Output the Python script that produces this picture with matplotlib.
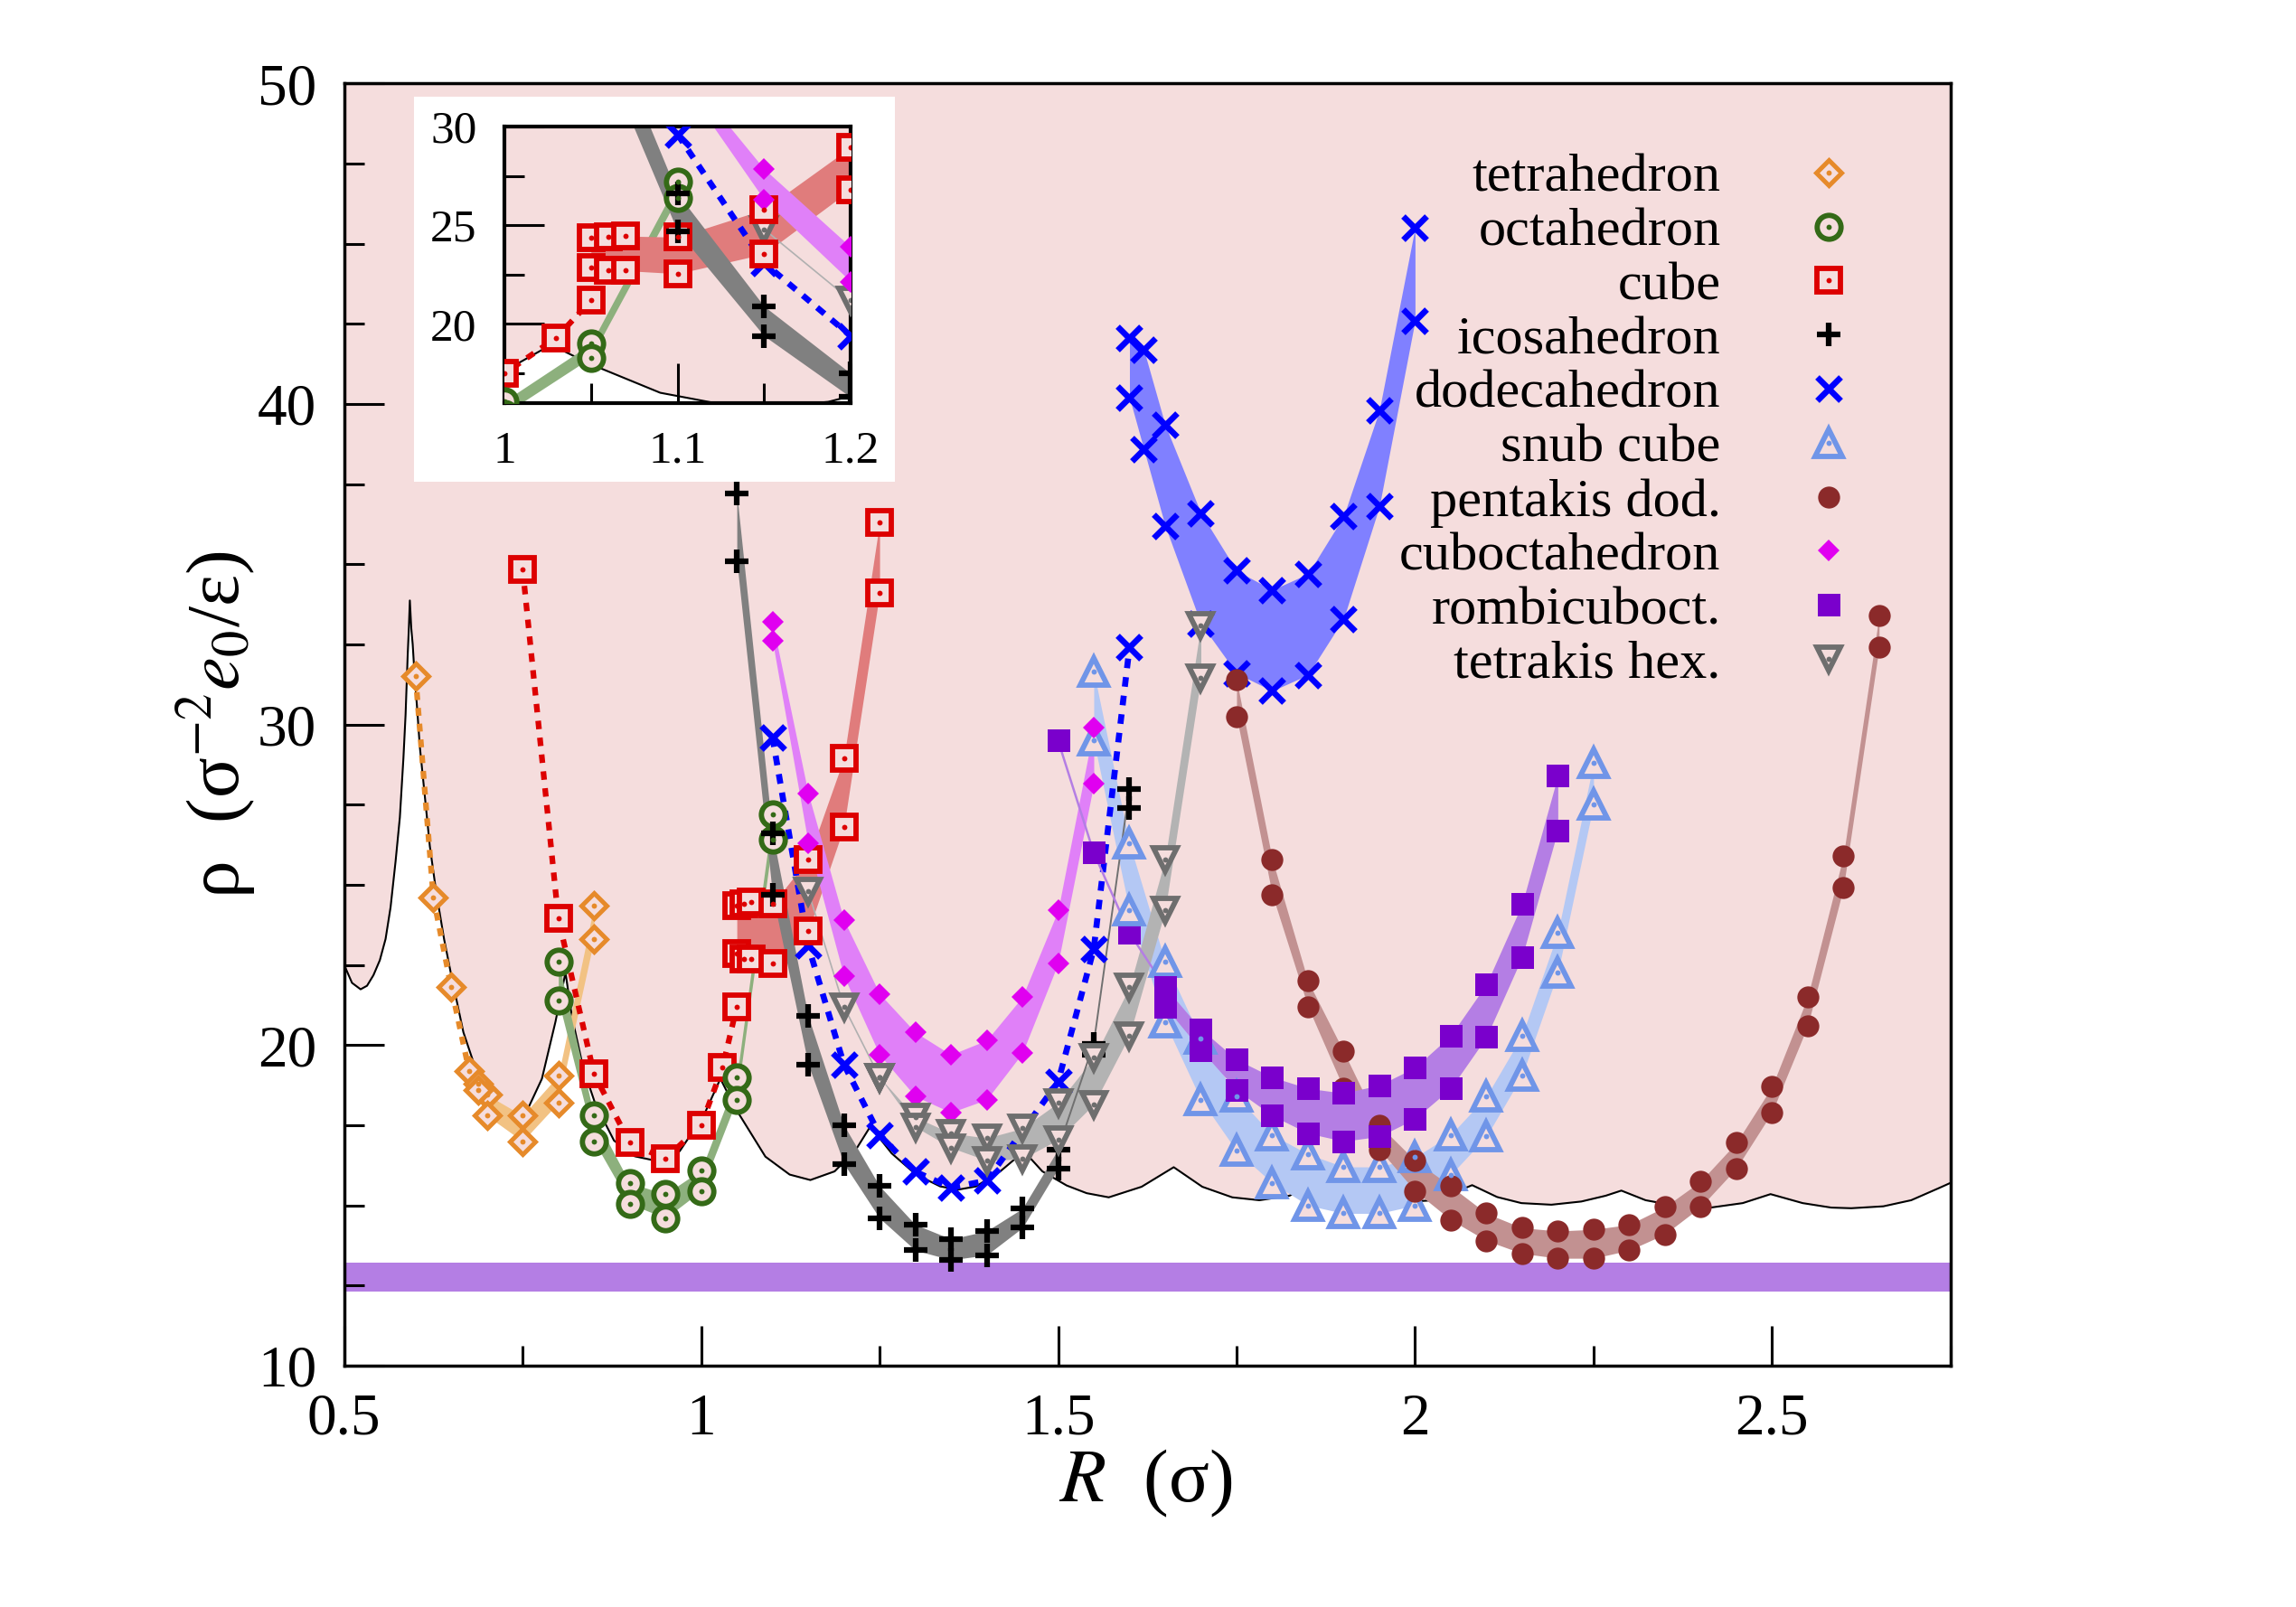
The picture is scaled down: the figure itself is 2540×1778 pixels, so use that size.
import numpy as np
import matplotlib.pyplot as plt
from matplotlib.patches import Rectangle
from matplotlib.ticker import MultipleLocator

plt.rcParams['font.family'] = ['Liberation Serif', 'DejaVu Serif']
plt.rcParams['mathtext.fontset'] = 'stix'

# black boundary curve (region above it is shaded)
edge_R = [0.5, 0.511, 0.523, 0.532, 0.541, 0.55, 0.558, 0.565, 0.572, 0.578, 0.583, 0.586,
          0.589, 0.5905, 0.592, 0.594, 0.596, 0.599, 0.602, 0.606, 0.612, 0.62, 0.629, 0.64,
          0.650, 0.667, 0.684, 0.709, 0.734, 0.755, 0.777, 0.796, 0.810, 0.819, 0.835,
          0.852, 0.878, 0.907, 0.941, 0.970, 1.004, 1.027, 1.048, 1.090, 1.124, 1.153, 1.187,
          1.216, 1.237, 1.267, 1.301, 1.335, 1.360, 1.385, 1.419, 1.444, 1.453, 1.478, 1.512,
          1.540, 1.571, 1.617, 1.662, 1.702, 1.744, 1.782, 1.824, 1.848, 1.870, 1.900, 1.940,
          1.980, 2.020, 2.050, 2.080, 2.115, 2.149, 2.191, 2.233, 2.267, 2.289, 2.323, 2.369,
          2.414, 2.459, 2.498, 2.543, 2.583, 2.611, 2.656, 2.695, 2.734, 2.75]
edge_rho = [22.5, 21.94, 21.74, 21.85, 22.18, 22.65, 23.31, 24.3, 25.73, 27.1, 28.95, 30.3,
            32.18, 32.95, 33.87, 33.0, 32.5, 31.4, 30.56, 29.3, 27.98, 26.2, 24.76, 23.3,
            22.18, 20.4, 19.27, 18.31, 17.82, 17.9, 18.95, 20.73, 22.26, 20.89, 19.27,
            18.15, 17.02, 16.53, 16.37, 16.69, 17.82, 18.95, 18.03, 16.52, 15.96, 15.79, 16.06,
            16.71, 17.46, 16.62, 15.96, 15.59, 15.49, 15.59, 16.06, 16.53, 16.67, 16.06, 15.62,
            15.38, 15.25, 15.58, 16.19, 15.58, 15.25, 15.16, 15.3, 15.55, 15.85, 15.45, 15.2,
            15.1, 15.15, 15.35, 15.63, 15.26, 15.07, 15.02, 15.12, 15.3, 15.46, 15.16, 14.97,
            14.93, 15.07, 15.35, 15.07, 14.93, 14.91, 14.97, 15.16, 15.54, 15.7]

# horizontal reference band
ref_lo, ref_hi = 12.3, 13.2

# tetrahedron
tet_R1 = [0.6, 0.625, 0.65, 0.675]
tet_rho1 = [31.5, 24.6, 21.8, 19.2]
tet_R2 = [0.6875, 0.7, 0.75, 0.8, 0.85]
tet_hi = [18.8, 18.45, 17.8, 19.05, 24.35]
tet_lo = [18.6, 17.8, 17.0, 18.2, 23.3]

# octahedron
oct_R2 = [0.8, 0.85, 0.9, 0.95, 1.0, 1.05, 1.1]
oct_hi = [22.6, 17.8, 15.7, 15.35, 16.1, 19.0, 27.2]
oct_lo = [21.4, 17.0, 15.05, 14.6, 15.45, 18.3, 26.4]

# cube
cub_R1 = [0.75, 0.8, 0.85, 0.9, 0.95, 1.0, 1.03, 1.05]
cub_rho1 = [34.85, 23.95, 19.1, 16.95, 16.45, 17.5, 19.3, 21.2]
cub_R2 = [1.05, 1.06, 1.07, 1.1, 1.15, 1.2, 1.25]
cub_hi = [24.35, 24.4, 24.45, 24.4, 25.8, 28.95, 36.3]
cub_lo = [22.85, 22.7, 22.7, 22.55, 23.55, 26.8, 34.1]

# icosahedron
ico_R2 = [1.05, 1.1, 1.15, 1.2, 1.25, 1.3, 1.35, 1.4, 1.45, 1.5]
ico_hi = [37.2, 26.6, 20.9, 17.5, 15.6, 14.4, 13.95, 14.2, 14.9, 16.75]
ico_lo = [35.1, 24.7, 19.4, 16.3, 14.6, 13.6, 13.3, 13.45, 14.3, 16.15]
ico_R3 = [1.55, 1.6]
ico_hi3 = [20.05, 28.0]
ico_lo3 = [19.7, 27.4]

# dodecahedron
dod_R1 = [1.1, 1.15, 1.2, 1.25, 1.3, 1.35, 1.4, 1.5, 1.55, 1.6]
dod_rho1 = [29.6, 23.1, 19.4, 17.2, 16.05, 15.55, 15.77, 18.85, 23.0, 32.4]
dod_R2 = [1.6, 1.62, 1.65, 1.7, 1.75, 1.8, 1.85, 1.9, 1.95, 2.0]
dod_hi = [42.05, 41.7, 39.35, 36.6, 34.8, 34.2, 34.7, 36.5, 39.8, 45.5]
dod_lo = [40.2, 38.6, 36.2, 33.15, 31.6, 31.05, 31.55, 33.3, 36.8, 42.6]

# snub cube
snb_R2 = [1.55, 1.6, 1.65, 1.7, 1.75, 1.8, 1.85, 1.9, 1.95, 2.0, 2.05, 2.1, 2.15, 2.2, 2.25]
snb_hi = [31.65, 26.3, 22.6, 20.2, 18.4, 17.2, 16.6, 16.2, 16.2, 16.5, 17.2, 18.4, 20.3, 23.5, 28.8]
snb_lo = [29.5, 24.2, 20.7, 18.3, 16.7, 15.7, 15.0, 14.75, 14.75, 15.0, 15.95, 17.15, 19.05, 22.25, 27.5]

# pentakis dodecahedron
pen_R2 = [1.75, 1.8, 1.85, 1.9, 1.95, 2.0, 2.05, 2.1, 2.15, 2.2, 2.25, 2.3, 2.35, 2.4, 2.45,
          2.5, 2.55, 2.6, 2.65]
pen_hi = [31.4, 25.8, 22.0, 19.8, 17.5, 16.4, 15.6, 14.75, 14.3, 14.2, 14.25, 14.4, 14.95,
          15.75, 16.95, 18.7, 21.5, 25.9, 33.4]
pen_lo = [30.25, 24.7, 21.2, 18.65, 16.75, 15.45, 14.55, 13.9, 13.5, 13.35, 13.35, 13.6, 14.1,
          14.95, 16.15, 17.9, 20.6, 24.9, 32.4]

# cuboctahedron
cbo_R2 = [1.1, 1.15, 1.2, 1.25, 1.3, 1.35, 1.4, 1.45, 1.5, 1.55]
cbo_hi = [33.2, 27.85, 23.9, 21.6, 20.4, 19.7, 20.15, 21.5, 24.2, 29.9]
cbo_lo = [32.6, 26.3, 22.15, 19.7, 18.4, 17.9, 18.3, 19.75, 22.55, 28.15]

# rhombicuboctahedron
rom_R1 = [1.5, 1.55, 1.6]
rom_rho1 = [29.5, 26.0, 23.5]
rom_R2 = [1.65, 1.7, 1.75, 1.8, 1.85, 1.9, 1.95, 2.0, 2.05, 2.1, 2.15, 2.2]
rom_hi = [21.8, 20.5, 19.55, 19.0, 18.65, 18.5, 18.75, 19.3, 20.3, 21.9, 24.4, 28.4]
rom_lo = [21.2, 19.85, 18.6, 17.8, 17.25, 17.0, 17.15, 17.7, 18.65, 20.25, 22.75, 26.7]

# tetrakis hexahedron
tkh_R1 = [1.15, 1.2, 1.25]
tkh_rho1 = [24.8, 21.2, 19.0]
tkh_R2 = [1.3, 1.35, 1.4, 1.45, 1.5, 1.55, 1.6, 1.65, 1.7]
tkh_hi = [17.75, 17.25, 17.1, 17.4, 18.2, 19.6, 21.8, 25.8, 33.1]
tkh_lo = [17.45, 16.8, 16.4, 16.45, 17.05, 18.15, 20.3, 24.2, 31.45]

labels = ['tetrahedron', 'octahedron', 'cube', 'icosahedron', 'dodecahedron', 'snub cube',
          'pentakis dod.', 'cuboctahedron', 'rombicuboct.', 'tetrakis hex.']

PINK = '#F5DDDD'
PURPLE = '#B47EE4'

# marker styles: (marker, size, color, open?, edge width)
mstyle = {
    'tetrahedron': ('D', 14.5, '#E68A2A', True, 3.6),
    'octahedron': ('o', 19, '#346A17', True, 4.2),
    'cube': ('s', 19, '#DD0000', True, 4.2),
    'icosahedron': ('+', 19, '#000000', False, 4.5),
    'dodecahedron': ('x', 19, '#0000FF', False, 4.8),
    'snub cube': ('^', 21.5, '#7095E8', True, 4.2),
    'pentakis dod.': ('o', 17.5, '#8B2A2A', False, 0),
    'cuboctahedron': ('D', 12.5, '#E000F0', False, 0),
    'rombicuboct.': ('s', 18, '#7A00CC', False, 0),
    'tetrakis hex.': ('v', 19, '#6E6E6E', True, 4.2),
}

band_col = {
    'tetrahedron': '#F2C283', 'octahedron': '#8DB07D', 'cube': '#E07C7C',
    'icosahedron': '#808080', 'dodecahedron': '#8080FF', 'snub cube': '#B4C8F4',
    'pentakis dod.': '#C29191', 'cuboctahedron': '#E080F8', 'rombicuboct.': '#B47EE4',
    'tetrakis hex.': '#B3B3B3',
}

bands = {
    'tetrahedron': (tet_R2, tet_hi, tet_lo),
    'octahedron': (oct_R2, oct_hi, oct_lo),
    'cube': (cub_R2, cub_hi, cub_lo),
    'icosahedron': (ico_R2, ico_hi, ico_lo),
    'dodecahedron': (dod_R2, dod_hi, dod_lo),
    'snub cube': (snb_R2, snb_hi, snb_lo),
    'pentakis dod.': (pen_R2, pen_hi, pen_lo),
    'cuboctahedron': (cbo_R2, cbo_hi, cbo_lo),
    'rombicuboct.': (rom_R2, rom_hi, rom_lo),
    'tetrakis hex.': ([tkh_R1[-1]] + tkh_R2, [tkh_rho1[-1]] + tkh_hi, [tkh_rho1[-1]] + tkh_lo),
}


def put_marker(ax, x, y, name, **kw):
    m, ms, c, is_open, mew = mstyle[name]
    face = PINK if is_open else c
    ax.plot(x, y, ls='none', marker=m, ms=ms, mfc=face, mec=c, mew=mew, zorder=6, **kw)
    if is_open:
        ax.plot(x, y, ls='none', marker='o', ms=4.2, mfc=c, mec=c, mew=0, zorder=6.1, **kw)


def draw_all(ax, top):
    ax.fill_between(edge_R, edge_rho, top, color=PINK, lw=0, zorder=0.5)
    ax.plot(edge_R, edge_rho, color='black', lw=1.5, zorder=1)
    ax.axhspan(ref_lo, ref_hi, color=PURPLE, lw=0, zorder=1.2)

    for name in labels:
        R, hi, lo = bands[name]
        ax.fill_between(R, lo, hi, color=band_col[name], lw=0, zorder=2)

    # dotted and thin connecting lines
    ax.plot(tet_R1 + [tet_R2[0]], tet_rho1 + [tet_hi[0]], color='#E68A2A', lw=4.5,
            ls=(0, (1.4, 1.4)), zorder=3)
    ax.plot(cub_R1, cub_rho1, color='#DD0000', lw=4.5, ls=(0, (1.5, 1.5)), zorder=3)
    ax.plot(dod_R1, dod_rho1, color='#0000FF', lw=4.8, ls=(0, (1.6, 1.5)), zorder=3)
    ax.plot([ico_R2[-1]] + ico_R3, [ico_hi[-1]] + ico_hi3, color='#707070', lw=1.4, zorder=3)
    ax.plot(rom_R1 + [rom_R2[0]], rom_rho1 + [rom_hi[0]], color=PURPLE, lw=1.8, zorder=3)
    ax.plot(tkh_R1, tkh_rho1, color='#B0B0B0', lw=1.2, zorder=3)

    put_marker(ax, tet_R1, tet_rho1, 'tetrahedron')
    put_marker(ax, cub_R1, cub_rho1, 'cube')
    put_marker(ax, dod_R1, dod_rho1, 'dodecahedron')
    put_marker(ax, rom_R1, rom_rho1, 'rombicuboct.')
    put_marker(ax, tkh_R1, tkh_rho1, 'tetrakis hex.')
    put_marker(ax, ico_R3 + ico_R3, ico_hi3 + ico_lo3, 'icosahedron')
    for name in labels:
        R, hi, lo = bands[name]
        put_marker(ax, R, hi, name)
        put_marker(ax, R, lo, name)


fig = plt.figure(figsize=(25.4, 17.78), dpi=100)
ax = fig.add_axes([0.1499, 0.1502, 0.6996, 0.7979])
draw_all(ax, 50)
ax.set_xlim(0.5, 2.75)
ax.set_ylim(10, 50)
ax.xaxis.set_major_locator(MultipleLocator(0.5))
ax.xaxis.set_minor_locator(MultipleLocator(0.25))
ax.yaxis.set_major_locator(MultipleLocator(10))
ax.yaxis.set_minor_locator(MultipleLocator(2.5))
ax.set_xticks([0.5, 1, 1.5, 2, 2.5])
ax.set_xticklabels(['0.5', '1', '1.5', '2', '2.5'])
ax.tick_params(which='both', direction='in', width=2.2, labelsize=47, top=False, right=False)
ax.tick_params(which='major', length=32, pad=22)
ax.tick_params(which='minor', length=16)
for sp in ax.spines.values():
    sp.set_linewidth(2.5)

fig.text(0.4988, 0.077, '$R$  (σ)', fontsize=60, ha='center', va='center')
fig.text(0.0945, 0.549, 'ρ  (σ$^{-2}$$e_0$/ε)', fontsize=60, ha='center', va='center',
         rotation=90)

# legend: right-aligned labels, markers to the right
for k, name in enumerate(labels):
    yb = 0.9158 - 0.04215 * k
    ax.text(0.857, yb, name, transform=ax.transAxes, fontsize=43.5, ha='right', va='baseline',
            zorder=7)
    put_marker(ax, [0.924], [yb + 0.0148], name, transform=ax.transAxes, clip_on=False)

# inset
fig.add_artist(Rectangle((0.1802, 0.7002), 0.2094, 0.2396, transform=fig.transFigure,
                         facecolor='white', edgecolor='none', zorder=5))
axin = fig.add_axes([0.2197, 0.7492, 0.1508, 0.1721], zorder=10)
draw_all(axin, 30)
axin.set_xlim(1, 1.2)
axin.set_ylim(16, 30)
axin.set_xticks([1, 1.1, 1.2])
axin.set_xticklabels(['1', '1.1', '1.2'])
axin.xaxis.set_minor_locator(MultipleLocator(0.05))
axin.set_yticks([20, 25, 30])
axin.yaxis.set_minor_locator(MultipleLocator(2.5))
axin.tick_params(which='both', direction='in', width=2.2, labelsize=37, top=False, right=False)
axin.tick_params(which='major', length=32, pad=22)
axin.tick_params(which='minor', length=16)
for sp in axin.spines.values():
    sp.set_linewidth(3)

fig.savefig('out.png', dpi=100)
